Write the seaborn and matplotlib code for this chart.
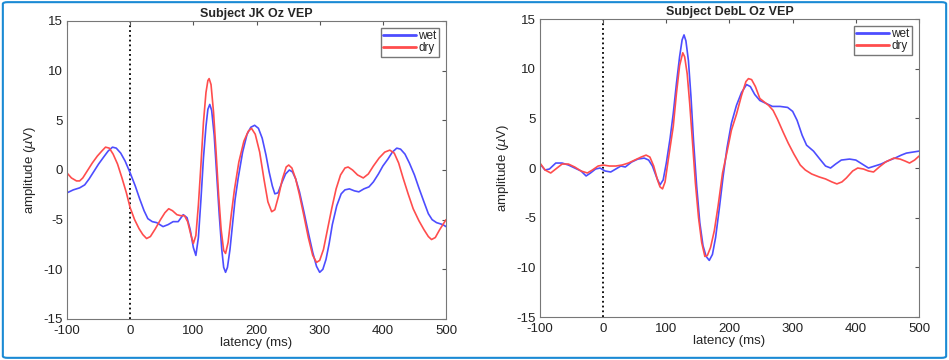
import pandas as pd
import seaborn as sns
import matplotlib.pyplot as plt
from matplotlib.patches import FancyBboxPatch

# Subject JK (left panel)
jk_wet_ms = [-100, -90, -80, -72, -65, -57, -50, -42, -35, -28, -22, -15, -8, 0, 8, 15, 22, 28,
             35, 42, 52, 60, 68, 76, 84, 90, 95, 100, 104, 108, 112, 116, 120, 123, 126, 129, 133,
             137, 141, 145, 148, 151, 154, 158, 162, 166, 171, 178, 185, 191, 197, 203, 209, 215,
             220, 225, 229, 234, 240, 246, 252, 257, 262, 268, 275, 282, 289, 295, 300, 305, 310,
             315, 320, 327, 334, 340, 347, 355, 362, 370, 378, 385, 393, 400, 408, 415, 422, 428,
             435, 442, 450, 457, 465, 472, 478, 485, 495, 500]
jk_wet_uv = [-2.3, -2.0, -1.8, -1.5, -0.9, -0.1, 0.6, 1.3, 1.9, 2.3, 2.2, 1.7, 0.9, -0.3, -1.6,
             -2.9, -4.1, -4.9, -5.2, -5.3, -5.7, -5.5, -5.2, -5.2, -4.5, -4.8, -6.0, -7.8, -8.6,
             -6.8, -3.0, 1.2, 4.4, 6.1, 6.6, 6.0, 3.5, -0.5, -4.5, -8.0, -9.8, -10.3, -9.8, -8.0,
             -5.5, -3.0, -0.8, 1.8, 3.6, 4.3, 4.5, 4.2, 3.2, 1.5, -0.2, -1.6, -2.4, -2.3, -1.3,
             -0.4, 0.0, -0.2, -0.9, -2.2, -4.2, -6.3, -8.3, -9.7, -10.3, -10.0, -9.0, -7.4, -5.5,
             -3.6, -2.4, -2.0, -1.9, -2.1, -2.2, -1.9, -1.7, -1.2, -0.4, 0.4, 1.1, 1.8, 2.2, 2.1,
             1.6, 0.7, -0.5, -1.8, -3.2, -4.4, -5.0, -5.3, -5.5, -5.7]

jk_dry_ms = [-100, -93, -85, -80, -75, -68, -60, -52, -45, -39, -33, -27, -20, -13, -6, 0, 7, 14,
             20, 26, 32, 40, 48, 55, 61, 67, 74, 80, 86, 91, 96, 100, 104, 108, 112, 116, 120, 123,
             125, 128, 132, 136, 140, 144, 148, 151, 155, 160, 165, 172, 180, 187, 192, 198, 205,
             212, 218, 224, 229, 235, 241, 247, 251, 256, 262, 268, 275, 282, 289, 295, 300, 306,
             312, 319, 326, 333, 340, 345, 352, 360, 369, 377, 385, 394, 403, 411, 418, 425, 432,
             440, 448, 457, 465, 472, 477, 483, 490, 500]
jk_dry_uv = [-0.3, -0.8, -1.1, -1.1, -0.8, -0.1, 0.7, 1.4, 1.9, 2.3, 2.2, 1.6, 0.6, -0.8, -2.3,
             -3.8, -5.0, -5.9, -6.5, -6.9, -6.7, -5.9, -5.0, -4.3, -3.9, -4.1, -4.5, -4.6, -4.6,
             -5.2, -6.5, -7.4, -6.6, -3.5, 0.5, 4.8, 7.8, 9.0, 9.2, 8.6, 5.8, 1.8, -2.5, -6.0,
             -8.1, -8.4, -7.3, -4.5, -2.0, 0.8, 2.9, 3.9, 4.2, 3.6, 1.8, -1.0, -3.2, -4.2, -4.0,
             -2.6, -0.9, 0.3, 0.5, 0.2, -0.9, -2.5, -4.6, -6.8, -8.6, -9.3, -9.1, -8.0, -6.1,
             -3.9, -1.9, -0.5, 0.2, 0.3, 0.0, -0.5, -0.8, -0.4, 0.4, 1.2, 1.8, 2.0, 1.7, 0.7,
             -0.8, -2.4, -3.9, -5.1, -6.0, -6.7, -7.0, -6.8, -6.0, -5.0]

# Subject DebL (right panel)
debl_wet_ms = [-100, -92, -85, -75, -65, -55, -45, -35, -27, -20, -12, -5, 3, 12, 20, 28, 35, 45,
               55, 65, 72, 78, 85, 90, 95, 100, 106, 111, 116, 121, 125, 128, 131, 135, 139, 143,
               148, 153, 158, 163, 168, 173, 178, 184, 190, 196, 203, 211, 219, 227, 233, 240,
               248, 258, 268, 280, 292, 300, 307, 315, 322, 333, 343, 352, 360, 368, 377, 390,
               400, 410, 420, 430, 440, 450, 462, 472, 480, 490, 500]
debl_wet_uv = [0.4, -0.2, -0.1, 0.5, 0.5, 0.3, 0.0, -0.3, -0.8, -0.5, -0.1, 0.0, -0.3, -0.4,
               -0.1, 0.2, 0.1, 0.6, 0.9, 1.0, 0.8, 0.2, -1.0, -1.7, -1.2, 0.5, 3.0, 5.5, 8.5,
               11.2, 12.9, 13.4, 12.8, 10.8, 7.2, 2.8, -1.8, -5.5, -7.8, -8.9, -9.3, -8.7, -7.0,
               -4.0, -0.8, 2.0, 4.5, 6.3, 7.6, 8.4, 8.2, 7.4, 6.8, 6.5, 6.2, 6.2, 6.1, 5.7, 4.8,
               3.3, 2.3, 1.7, 0.9, 0.2, 0.0, 0.4, 0.8, 0.9, 0.8, 0.4, 0.0, 0.2, 0.4, 0.7, 1.0,
               1.3, 1.5, 1.6, 1.7]

debl_dry_ms = [-100, -92, -83, -75, -65, -55, -45, -35, -25, -17, -8, 0, 10, 20, 30, 40, 50, 60,
               68, 74, 80, 86, 90, 94, 98, 103, 107, 111, 116, 121, 126, 129, 133, 137, 141, 146,
               151, 156, 161, 165, 170, 176, 182, 189, 196, 203, 211, 219, 226, 230, 235, 241,
               248, 256, 262, 269, 276, 285, 293, 302, 312, 320, 330, 342, 352, 362, 370, 378,
               385, 395, 403, 412, 420, 428, 437, 447, 460, 470, 478, 485, 493, 500]
debl_dry_uv = [0.5, -0.2, -0.5, -0.1, 0.4, 0.4, 0.1, -0.3, -0.5, -0.2, 0.2, 0.3, 0.2, 0.2, 0.3,
               0.5, 0.8, 1.1, 1.3, 1.1, 0.2, -1.2, -1.9, -2.1, -1.4, 0.8, 2.5, 4.2, 7.5, 10.3,
               11.6, 11.2, 9.5, 6.5, 3.0, -1.5, -5.0, -7.5, -8.9, -8.8, -8.0, -6.3, -3.8, -0.5,
               1.6, 3.8, 5.4, 7.3, 8.7, 9.0, 8.9, 8.2, 7.0, 6.6, 6.3, 5.8, 4.9, 3.6, 2.5, 1.4,
               0.3, -0.2, -0.6, -0.9, -1.1, -1.4, -1.6, -1.4, -1.0, -0.3, 0.0, -0.1, -0.3, -0.4,
               0.1, 0.6, 1.0, 0.9, 0.7, 0.5, 0.8, 1.2]

panels = [
    ("Subject JK Oz VEP", jk_wet_ms, jk_wet_uv, jk_dry_ms, jk_dry_uv),
    ("Subject DebL Oz VEP", debl_wet_ms, debl_wet_uv, debl_dry_ms, debl_dry_uv),
]

sns.set_style("white")
plt.rcParams["font.family"] = ["Liberation Sans", "DejaVu Sans"]
plt.rcParams["axes.unicode_minus"] = False

fig = plt.figure(figsize=(9.49, 3.60), dpi=100)
positions = [[0.0706, 0.1139, 0.3994, 0.8278], [0.569, 0.1194, 0.3994, 0.8278]]
palette = {"wet": (0.3, 0.3, 1.0), "dry": (1.0, 0.3, 0.3)}

for pos, (title, wx, wy, dx, dy) in zip(positions, panels):
    ax = fig.add_axes(pos)
    df = pd.concat([
        pd.DataFrame({"latency": wx, "amplitude": wy, "condition": "wet"}),
        pd.DataFrame({"latency": dx, "amplitude": dy, "condition": "dry"}),
    ])
    sns.lineplot(data=df, x="latency", y="amplitude", hue="condition", palette=palette,
                 estimator=None, sort=False, linewidth=1.2, ax=ax)
    ax.axvline(0, color="black", linestyle=":", linewidth=1.3, zorder=0)

    ax.set_xlim(-100, 500)
    ax.set_ylim(-15, 15)
    ax.set_xticks(range(-100, 501, 100))
    ax.set_yticks(range(-15, 16, 5))
    ax.tick_params(direction="in", length=3, top=True, right=True, labelsize=9.5,
                   color="#555555", labelcolor="#222222")
    ax.tick_params(axis="x", pad=4)
    ax.tick_params(axis="y", pad=3)
    for s in ax.spines.values():
        s.set_color("#777777")
        s.set_linewidth(0.8)
    ax.set_title(title, fontsize=9, fontweight="bold", pad=3)
    ax.set_xlabel("latency (ms)", fontsize=9.5, labelpad=0)
    ax.set_ylabel(r"amplitude ($\mu$V)", fontsize=9.5, labelpad=4)

    leg = ax.legend(loc="upper right", fontsize=8.5, handlelength=2.8, handletextpad=0.2,
                    borderpad=0.2, labelspacing=0.0, fancybox=False, framealpha=1,
                    borderaxespad=0.6, title=None)
    leg.get_frame().set_edgecolor("#777777")
    leg.get_frame().set_linewidth(1.0)
    for line in leg.get_lines():
        line.set_linewidth(2.0)

# light blue rounded border around the whole figure
border = FancyBboxPatch((0.003, 0.006), 0.994, 0.988, boxstyle="round,pad=0,rounding_size=0.005",
                        transform=fig.transFigure, fill=False, edgecolor="#1a8ad4",
                        linewidth=1.5)
fig.patches.append(border)

plt.savefig("out.png", dpi=100)
plt.close()
